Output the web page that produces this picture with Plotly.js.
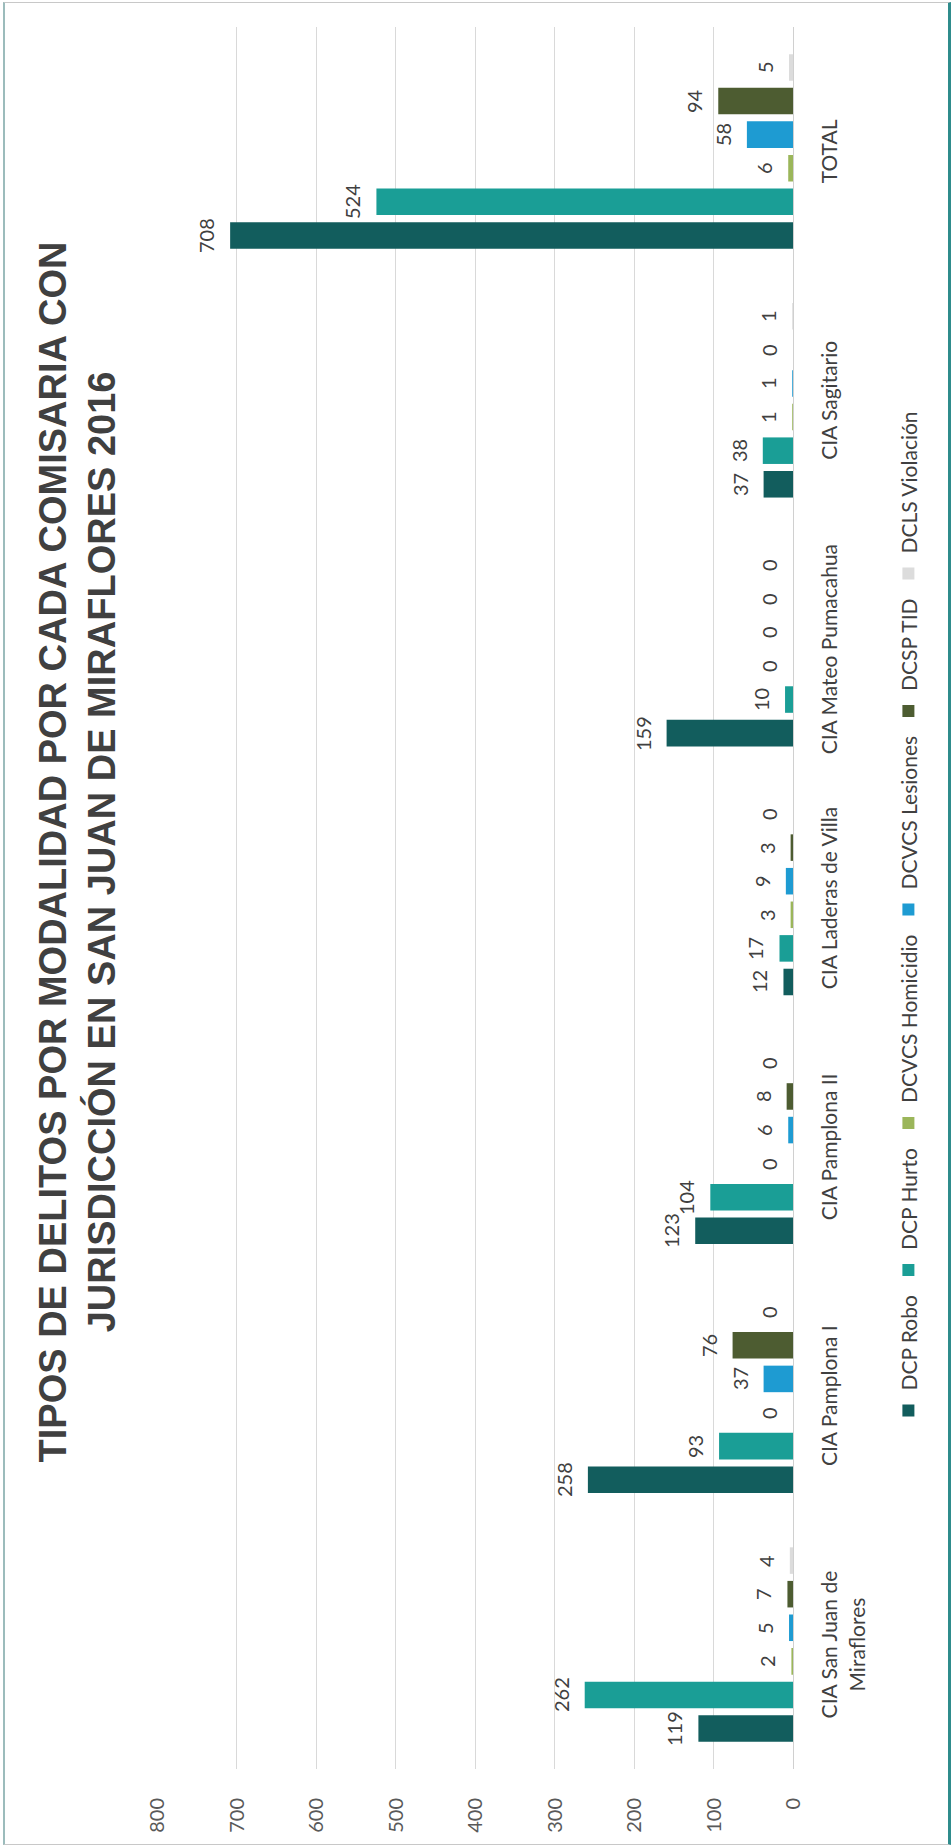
<!DOCTYPE html>
<html>
<head>
<meta charset="utf-8">
<script src="https://cdn.plot.ly/plotly-3.0.1.min.js"></script>
<style>
  html, body { margin:0; padding:0; background:#ffffff; }
  #page { position:absolute; left:0; top:0; width:952px; height:1848px; overflow:hidden; background:#ffffff; }
  #frame { position:absolute; left:3px; top:2px; width:943px; height:1841px;
           border-left:2px solid #9cbcbc; border-right:3px solid #2f8c8c;
           border-top:1px solid #c8c8c8; border-bottom:1px solid #c8c8c8; pointer-events:none; }
  #chart { position:absolute; left:0; top:0; width:1848px; height:952px;
           transform-origin:0 0; transform:translate(0px,1848px) rotate(-90deg); }
</style>
</head>
<body>
<div id="page">
  <div id="chart"></div>
  <div id="frame"></div>
</div>
<script>
// ---- data ----
const categories = ['CIA San Juan de<br>Miraflores', 'CIA Pamplona I', 'CIA Pamplona II',
                    'CIA Laderas de Villa', 'CIA Mateo Pumacahua', 'CIA Sagitario', 'TOTAL'];
const seriesNames = ['DCP Robo', 'DCP Hurto', 'DCVCS Homicidio', 'DCVCS Lesiones', 'DCSP TID', 'DCLS Violación'];
const dcpRobo        = [119, 258, 123, 12, 159, 37, 708];
const dcpHurto       = [262, 93, 104, 17, 10, 38, 524];
const dcvcsHomicidio = [2, 0, 0, 3, 0, 1, 6];
const dcvcsLesiones  = [5, 37, 6, 9, 0, 1, 58];
const dcspTid        = [7, 76, 8, 3, 0, 0, 94];
const dclsViolacion  = [4, 0, 0, 0, 0, 1, 5];
const yTickVals = [0, 100, 200, 300, 400, 500, 600, 700, 800];
const titleText = 'TIPOS DE DELITOS POR MODALIDAD POR CADA COMISARIA CON<br>JURISDICCIÓN EN SAN JUAN DE MIRAFLORES 2016';

// ---- styles ----
const seriesValues = [dcpRobo, dcpHurto, dcvcsHomicidio, dcvcsLesiones, dcspTid, dclsViolacion];
const colors = ['#125d5d', '#1a9e96', '#9bb65a', '#1e9bd2', '#4d5c31', '#dcdcdc'];
const bodyFont = 'Lato, "Open Sans", sans-serif';
const bargap = 0.19;

const traces = seriesNames.map((name, i) => ({
  type: 'bar',
  name: name,
  x: categories,
  y: seriesValues[i],
  marker: { color: colors[i] },
  hoverinfo: 'none'
}));

const n = seriesNames.length;
const annotations = [];
seriesValues.forEach((vals, i) => {
  vals.forEach((v, j) => {
    annotations.push({
      x: j + (i - (n - 1) / 2) * (1 - bargap) / n,
      y: v,
      xref: 'x', yref: 'y',
      text: String(v),
      showarrow: false,
      yanchor: 'bottom',
      yshift: 10,
      font: { family: bodyFont, size: 20, color: '#404040' }
    });
  });
});

const layout = {
  width: 1848,
  height: 952,
  margin: { l: 79, r: 27, t: 157, b: 159 },
  paper_bgcolor: '#ffffff',
  plot_bgcolor: '#ffffff',
  barmode: 'group',
  bargap: bargap,
  bargroupgap: 0.21,
  title: {
    text: '<b>' + titleText + '</b>',
    font: { family: '"Liberation Sans", Arial, sans-serif', size: 38, color: '#404040' },
    x: 0.539, xref: 'container', xanchor: 'center',
    y: 1 - 66 / 952, yref: 'container', yanchor: 'top'
  },
  xaxis: {
    type: 'category',
    tickfont: { family: bodyFont, size: 21, color: '#404040' },
    ticks: 'outside', ticklen: 18, tickcolor: 'rgba(0,0,0,0)',
    showline: false, showgrid: false, zeroline: false, fixedrange: true
  },
  yaxis: {
    range: [0, 800],
    tickvals: yTickVals,
    tickfont: { family: bodyFont, size: 20, color: '#595959' },
    ticks: 'outside', ticklen: 24, tickcolor: 'rgba(0,0,0,0)',
    showgrid: true, gridcolor: '#d9d9d9', gridwidth: 1,
    zeroline: true, zerolinecolor: '#d0d0d0', zerolinewidth: 1,
    showline: false, fixedrange: true
  },
  legend: {
    orientation: 'h',
    x: 0.4885, xanchor: 'center',
    y: -0.182, yanchor: 'middle',
    font: { family: bodyFont, size: 21, color: '#404040' },
    bgcolor: 'rgba(0,0,0,0)'
  },
  annotations: annotations,
  showlegend: true
};

Plotly.newPlot('chart', traces, layout, { displayModeBar: false, staticPlot: true });
</script>
</body>
</html>
